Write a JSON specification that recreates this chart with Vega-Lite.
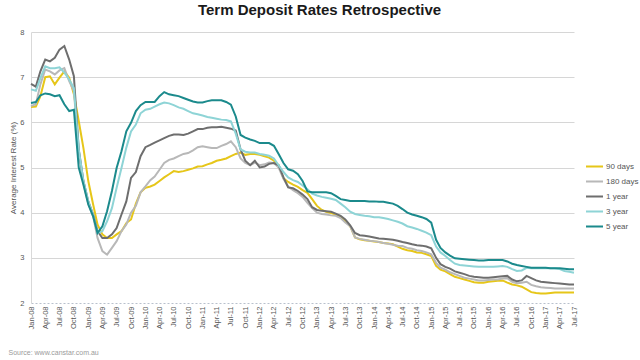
{
  "$schema": "https://vega.github.io/schema/vega-lite/v6.json",
  "autosize": {"type": "none"},
  "padding": {"left": 31, "top": 32, "right": 66, "bottom": 57},
  "width": 543,
  "height": 271,
  "background": "white",
  "title": {"text": "Term Deposit Rates Retrospective", "anchor": "middle", "dx": 17, "offset": 10, "fontSize": 15, "font": "Liberation Sans", "fontWeight": "bold", "color": "#1a1a1a"},
  "config": {"view": {"stroke": null}, "font": "Liberation Sans"},
  "data": {"values": [
{"d":"2008-01-01","90 days":6.34,"180 days":6.36,"1 year":6.85,"3 year":6.73,"5 year":6.43},
{"d":"2008-02-01","90 days":6.35,"180 days":6.4,"1 year":6.79,"3 year":6.7,"5 year":6.45},
{"d":"2008-03-01","90 days":6.58,"180 days":6.84,"1 year":7.13,"3 year":6.98,"5 year":6.6},
{"d":"2008-04-01","90 days":7.0,"180 days":7.17,"1 year":7.39,"3 year":7.24,"5 year":6.64},
{"d":"2008-05-01","90 days":7.02,"180 days":7.13,"1 year":7.35,"3 year":7.2,"5 year":6.62},
{"d":"2008-06-01","90 days":6.84,"180 days":7.06,"1 year":7.43,"3 year":7.2,"5 year":6.58},
{"d":"2008-07-01","90 days":6.99,"180 days":7.15,"1 year":7.61,"3 year":7.22,"5 year":6.6},
{"d":"2008-08-01","90 days":7.13,"180 days":7.2,"1 year":7.69,"3 year":7.1,"5 year":6.4},
{"d":"2008-09-01","90 days":6.99,"180 days":6.91,"1 year":7.39,"3 year":6.95,"5 year":6.25},
{"d":"2008-10-01","90 days":6.62,"180 days":6.69,"1 year":7.02,"3 year":6.76,"5 year":6.28},
{"d":"2008-11-01","90 days":6.03,"180 days":5.36,"1 year":5.4,"3 year":5.4,"5 year":5.0},
{"d":"2008-12-01","90 days":5.43,"180 days":4.65,"1 year":4.7,"3 year":4.7,"5 year":4.62},
{"d":"2009-01-01","90 days":4.7,"180 days":4.2,"1 year":4.25,"3 year":4.25,"5 year":4.18},
{"d":"2009-02-01","90 days":4.18,"180 days":3.92,"1 year":3.96,"3 year":3.95,"5 year":3.92},
{"d":"2009-03-01","90 days":3.74,"180 days":3.44,"1 year":3.59,"3 year":3.55,"5 year":3.55},
{"d":"2009-04-01","90 days":3.52,"180 days":3.15,"1 year":3.44,"3 year":3.59,"5 year":3.7},
{"d":"2009-05-01","90 days":3.44,"180 days":3.07,"1 year":3.44,"3 year":3.81,"5 year":4.03},
{"d":"2009-06-01","90 days":3.44,"180 days":3.22,"1 year":3.52,"3 year":4.1,"5 year":4.48},
{"d":"2009-07-01","90 days":3.52,"180 days":3.37,"1 year":3.66,"3 year":4.55,"5 year":4.99},
{"d":"2009-08-01","90 days":3.59,"180 days":3.59,"1 year":3.96,"3 year":4.99,"5 year":5.36},
{"d":"2009-09-01","90 days":3.77,"180 days":3.74,"1 year":4.25,"3 year":5.44,"5 year":5.8},
{"d":"2009-10-01","90 days":3.85,"180 days":4.0,"1 year":4.77,"3 year":5.8,"5 year":5.99},
{"d":"2009-11-01","90 days":4.2,"180 days":4.15,"1 year":4.9,"3 year":5.95,"5 year":6.25},
{"d":"2009-12-01","90 days":4.45,"180 days":4.45,"1 year":5.25,"3 year":6.2,"5 year":6.38},
{"d":"2010-01-01","90 days":4.55,"180 days":4.58,"1 year":5.45,"3 year":6.28,"5 year":6.45},
{"d":"2010-02-01","90 days":4.58,"180 days":4.72,"1 year":5.5,"3 year":6.3,"5 year":6.45},
{"d":"2010-03-01","90 days":4.62,"180 days":4.8,"1 year":5.55,"3 year":6.35,"5 year":6.45},
{"d":"2010-04-01","90 days":4.7,"180 days":4.95,"1 year":5.6,"3 year":6.4,"5 year":6.58},
{"d":"2010-05-01","90 days":4.78,"180 days":5.1,"1 year":5.65,"3 year":6.44,"5 year":6.67},
{"d":"2010-06-01","90 days":4.85,"180 days":5.17,"1 year":5.7,"3 year":6.42,"5 year":6.62},
{"d":"2010-07-01","90 days":4.92,"180 days":5.2,"1 year":5.73,"3 year":6.38,"5 year":6.6},
{"d":"2010-08-01","90 days":4.9,"180 days":5.25,"1 year":5.73,"3 year":6.33,"5 year":6.58},
{"d":"2010-09-01","90 days":4.92,"180 days":5.3,"1 year":5.72,"3 year":6.3,"5 year":6.54},
{"d":"2010-10-01","90 days":4.95,"180 days":5.32,"1 year":5.75,"3 year":6.25,"5 year":6.5},
{"d":"2010-11-01","90 days":4.98,"180 days":5.38,"1 year":5.8,"3 year":6.2,"5 year":6.46},
{"d":"2010-12-01","90 days":5.02,"180 days":5.45,"1 year":5.85,"3 year":6.18,"5 year":6.44},
{"d":"2011-01-01","90 days":5.03,"180 days":5.47,"1 year":5.85,"3 year":6.15,"5 year":6.44},
{"d":"2011-02-01","90 days":5.07,"180 days":5.45,"1 year":5.88,"3 year":6.12,"5 year":6.47},
{"d":"2011-03-01","90 days":5.1,"180 days":5.43,"1 year":5.89,"3 year":6.1,"5 year":6.49},
{"d":"2011-04-01","90 days":5.15,"180 days":5.43,"1 year":5.89,"3 year":6.08,"5 year":6.49},
{"d":"2011-05-01","90 days":5.17,"180 days":5.48,"1 year":5.9,"3 year":6.06,"5 year":6.49},
{"d":"2011-06-01","90 days":5.2,"180 days":5.52,"1 year":5.88,"3 year":6.05,"5 year":6.45},
{"d":"2011-07-01","90 days":5.25,"180 days":5.58,"1 year":5.86,"3 year":6.02,"5 year":6.39},
{"d":"2011-08-01","90 days":5.3,"180 days":5.45,"1 year":5.82,"3 year":5.75,"5 year":6.13},
{"d":"2011-09-01","90 days":5.33,"180 days":5.2,"1 year":5.4,"3 year":5.4,"5 year":5.72},
{"d":"2011-10-01","90 days":5.28,"180 days":5.1,"1 year":5.15,"3 year":5.35,"5 year":5.66},
{"d":"2011-11-01","90 days":5.3,"180 days":5.05,"1 year":5.05,"3 year":5.33,"5 year":5.62},
{"d":"2011-12-01","90 days":5.3,"180 days":5.11,"1 year":5.15,"3 year":5.33,"5 year":5.59},
{"d":"2012-01-01","90 days":5.28,"180 days":5.05,"1 year":5.0,"3 year":5.3,"5 year":5.54},
{"d":"2012-02-01","90 days":5.25,"180 days":5.07,"1 year":5.02,"3 year":5.28,"5 year":5.54},
{"d":"2012-03-01","90 days":5.22,"180 days":5.11,"1 year":5.08,"3 year":5.26,"5 year":5.54},
{"d":"2012-04-01","90 days":5.15,"180 days":5.1,"1 year":5.1,"3 year":5.2,"5 year":5.48},
{"d":"2012-05-01","90 days":5.05,"180 days":5.0,"1 year":5.05,"3 year":5.05,"5 year":5.3},
{"d":"2012-06-01","90 days":4.76,"180 days":4.75,"1 year":4.78,"3 year":4.9,"5 year":5.1},
{"d":"2012-07-01","90 days":4.68,"180 days":4.58,"1 year":4.56,"3 year":4.78,"5 year":4.96},
{"d":"2012-08-01","90 days":4.62,"180 days":4.5,"1 year":4.54,"3 year":4.72,"5 year":4.93},
{"d":"2012-09-01","90 days":4.57,"180 days":4.43,"1 year":4.48,"3 year":4.68,"5 year":4.85},
{"d":"2012-10-01","90 days":4.5,"180 days":4.35,"1 year":4.4,"3 year":4.6,"5 year":4.7},
{"d":"2012-11-01","90 days":4.44,"180 days":4.22,"1 year":4.3,"3 year":4.52,"5 year":4.47},
{"d":"2012-12-01","90 days":4.3,"180 days":4.1,"1 year":4.12,"3 year":4.42,"5 year":4.45},
{"d":"2013-01-01","90 days":4.15,"180 days":4.0,"1 year":4.06,"3 year":4.38,"5 year":4.45},
{"d":"2013-02-01","90 days":4.06,"180 days":3.97,"1 year":4.04,"3 year":4.35,"5 year":4.45},
{"d":"2013-03-01","90 days":4.02,"180 days":3.96,"1 year":4.03,"3 year":4.33,"5 year":4.45},
{"d":"2013-04-01","90 days":3.99,"180 days":3.94,"1 year":4.02,"3 year":4.31,"5 year":4.43},
{"d":"2013-05-01","90 days":3.96,"180 days":3.93,"1 year":3.98,"3 year":4.28,"5 year":4.37},
{"d":"2013-06-01","90 days":3.9,"180 days":3.88,"1 year":3.93,"3 year":4.2,"5 year":4.3},
{"d":"2013-07-01","90 days":3.82,"180 days":3.78,"1 year":3.85,"3 year":4.12,"5 year":4.28},
{"d":"2013-08-01","90 days":3.7,"180 days":3.7,"1 year":3.72,"3 year":4.02,"5 year":4.26},
{"d":"2013-09-01","90 days":3.45,"180 days":3.45,"1 year":3.55,"3 year":3.97,"5 year":4.26},
{"d":"2013-10-01","90 days":3.41,"180 days":3.42,"1 year":3.5,"3 year":3.95,"5 year":4.26},
{"d":"2013-11-01","90 days":3.39,"180 days":3.4,"1 year":3.49,"3 year":3.93,"5 year":4.26},
{"d":"2013-12-01","90 days":3.38,"180 days":3.38,"1 year":3.47,"3 year":3.92,"5 year":4.25},
{"d":"2014-01-01","90 days":3.36,"180 days":3.37,"1 year":3.45,"3 year":3.9,"5 year":4.25},
{"d":"2014-02-01","90 days":3.35,"180 days":3.35,"1 year":3.43,"3 year":3.9,"5 year":4.24},
{"d":"2014-03-01","90 days":3.33,"180 days":3.33,"1 year":3.42,"3 year":3.88,"5 year":4.24},
{"d":"2014-04-01","90 days":3.32,"180 days":3.31,"1 year":3.41,"3 year":3.86,"5 year":4.22},
{"d":"2014-05-01","90 days":3.3,"180 days":3.29,"1 year":3.4,"3 year":3.83,"5 year":4.2},
{"d":"2014-06-01","90 days":3.25,"180 days":3.27,"1 year":3.38,"3 year":3.8,"5 year":4.15},
{"d":"2014-07-01","90 days":3.2,"180 days":3.26,"1 year":3.35,"3 year":3.76,"5 year":4.08},
{"d":"2014-08-01","90 days":3.17,"180 days":3.22,"1 year":3.33,"3 year":3.7,"5 year":4.0},
{"d":"2014-09-01","90 days":3.15,"180 days":3.2,"1 year":3.3,"3 year":3.67,"5 year":3.96},
{"d":"2014-10-01","90 days":3.12,"180 days":3.17,"1 year":3.28,"3 year":3.64,"5 year":3.93},
{"d":"2014-11-01","90 days":3.11,"180 days":3.15,"1 year":3.27,"3 year":3.6,"5 year":3.9},
{"d":"2014-12-01","90 days":3.08,"180 days":3.12,"1 year":3.25,"3 year":3.56,"5 year":3.86},
{"d":"2015-01-01","90 days":3.04,"180 days":3.08,"1 year":3.21,"3 year":3.5,"5 year":3.78},
{"d":"2015-02-01","90 days":2.82,"180 days":2.89,"1 year":3.0,"3 year":3.25,"5 year":3.4},
{"d":"2015-03-01","90 days":2.74,"180 days":2.78,"1 year":2.86,"3 year":3.12,"5 year":3.22},
{"d":"2015-04-01","90 days":2.7,"180 days":2.74,"1 year":2.8,"3 year":3.04,"5 year":3.12},
{"d":"2015-05-01","90 days":2.64,"180 days":2.68,"1 year":2.76,"3 year":2.95,"5 year":3.05},
{"d":"2015-06-01","90 days":2.58,"180 days":2.64,"1 year":2.7,"3 year":2.87,"5 year":2.99},
{"d":"2015-07-01","90 days":2.55,"180 days":2.6,"1 year":2.67,"3 year":2.84,"5 year":2.98},
{"d":"2015-08-01","90 days":2.52,"180 days":2.56,"1 year":2.64,"3 year":2.83,"5 year":2.97},
{"d":"2015-09-01","90 days":2.49,"180 days":2.54,"1 year":2.6,"3 year":2.82,"5 year":2.96},
{"d":"2015-10-01","90 days":2.46,"180 days":2.52,"1 year":2.58,"3 year":2.81,"5 year":2.95},
{"d":"2015-11-01","90 days":2.45,"180 days":2.5,"1 year":2.57,"3 year":2.8,"5 year":2.94},
{"d":"2015-12-01","90 days":2.45,"180 days":2.5,"1 year":2.56,"3 year":2.8,"5 year":2.94},
{"d":"2016-01-01","90 days":2.47,"180 days":2.51,"1 year":2.56,"3 year":2.8,"5 year":2.95},
{"d":"2016-02-01","90 days":2.48,"180 days":2.52,"1 year":2.57,"3 year":2.8,"5 year":2.95},
{"d":"2016-03-01","90 days":2.49,"180 days":2.52,"1 year":2.58,"3 year":2.81,"5 year":2.95},
{"d":"2016-04-01","90 days":2.5,"180 days":2.54,"1 year":2.59,"3 year":2.82,"5 year":2.95},
{"d":"2016-05-01","90 days":2.45,"180 days":2.55,"1 year":2.6,"3 year":2.8,"5 year":2.92},
{"d":"2016-06-01","90 days":2.41,"180 days":2.47,"1 year":2.52,"3 year":2.75,"5 year":2.87},
{"d":"2016-07-01","90 days":2.39,"180 days":2.44,"1 year":2.48,"3 year":2.71,"5 year":2.84},
{"d":"2016-08-01","90 days":2.36,"180 days":2.45,"1 year":2.5,"3 year":2.72,"5 year":2.82},
{"d":"2016-09-01","90 days":2.3,"180 days":2.47,"1 year":2.6,"3 year":2.78,"5 year":2.8},
{"d":"2016-10-01","90 days":2.24,"180 days":2.4,"1 year":2.55,"3 year":2.77,"5 year":2.78},
{"d":"2016-11-01","90 days":2.22,"180 days":2.37,"1 year":2.5,"3 year":2.77,"5 year":2.78},
{"d":"2016-12-01","90 days":2.21,"180 days":2.35,"1 year":2.47,"3 year":2.77,"5 year":2.78},
{"d":"2017-01-01","90 days":2.21,"180 days":2.34,"1 year":2.46,"3 year":2.77,"5 year":2.78},
{"d":"2017-02-01","90 days":2.22,"180 days":2.33,"1 year":2.45,"3 year":2.77,"5 year":2.77},
{"d":"2017-03-01","90 days":2.23,"180 days":2.32,"1 year":2.44,"3 year":2.77,"5 year":2.77},
{"d":"2017-04-01","90 days":2.23,"180 days":2.32,"1 year":2.43,"3 year":2.75,"5 year":2.77},
{"d":"2017-05-01","90 days":2.23,"180 days":2.32,"1 year":2.42,"3 year":2.71,"5 year":2.76},
{"d":"2017-06-01","90 days":2.23,"180 days":2.32,"1 year":2.41,"3 year":2.69,"5 year":2.75},
{"d":"2017-07-01","90 days":2.23,"180 days":2.32,"1 year":2.41,"3 year":2.67,"5 year":2.75}
  ]},
  "transform": [{"fold": ["90 days", "180 days", "1 year", "3 year", "5 year"], "as": ["term", "rate"]}],
  "mark": {"type": "line", "strokeWidth": 2, "interpolate": "linear"},
  "encoding": {
    "x": {
      "field": "d", "type": "temporal",
      "scale": {"type": "utc", "domain": [{"year": 2008, "month": 1, "date": 1, "utc": true}, {"year": 2017, "month": 7, "date": 1, "utc": true}], "nice": false},
      "axis": {
        "title": "Source: www.canstar.com.au",
        "titleFontSize": 7, "titleFontWeight": "normal", "titleColor": "#9a9a9a", "titleFont": "Liberation Sans",
        "titleAnchor": "start", "titleAlign": "left", "titleBaseline": "middle", "titleX": -23, "titleY": 49, "titleAngle": 0,
        "tickCount": {"interval": "month", "step": 3},
        "labelExpr": "utcFormat(datum.value, '%b-%y')",
        "labelAngle": 270, "labelFontSize": 7.5, "labelColor": "#555555", "labelPadding": 3,
        "labelOverlap": false, "labelFlush": false,
        "ticks": false, "grid": false, "domain": false
      }
    },
    "y": {
      "field": "rate", "type": "quantitative",
      "scale": {"domain": [2, 8], "nice": false, "zero": false},
      "axis": {
        "title": "Average Interest Rate (%)",
        "titleFontSize": 8, "titleFontWeight": "normal", "titleColor": "#555555",
        "titleX": -18, "titleY": 135.5, "titleAlign": "center", "titleBaseline": "middle", "titleAngle": 270,
        "values": [2, 3, 4, 5, 6, 7, 8],
        "labelFontSize": 7.5, "labelColor": "#555555", "labelPadding": 7,
        "ticks": false,
        "domain": true, "domainColor": "#d9d9d9", "domainWidth": 1,
        "grid": true, "gridColor": {"condition": {"test": "datum.value == 2", "value": "#b8c0cc"}, "value": "#d6d6d6"},
        "gridWidth": 1,
        "gridDash": {"condition": {"test": "datum.value == 2", "value": [2, 2]}, "value": []}
      }
    },
    "color": {
      "field": "term", "type": "nominal",
      "scale": {"domain": ["90 days", "180 days", "1 year", "3 year", "5 year"], "range": ["#e6c619", "#b8b8b8", "#6e6e6e", "#8ed4d6", "#1b8a8c"]},
      "legend": {
        "title": null, "orient": "none", "legendX": 554, "legendY": 128,
        "symbolType": "stroke", "symbolSize": 289, "symbolStrokeWidth": 2,
        "labelFontSize": 8, "labelColor": "#555555", "labelOffset": 2,
        "clipHeight": 13, "rowPadding": 2
      }
    }
  }
}
